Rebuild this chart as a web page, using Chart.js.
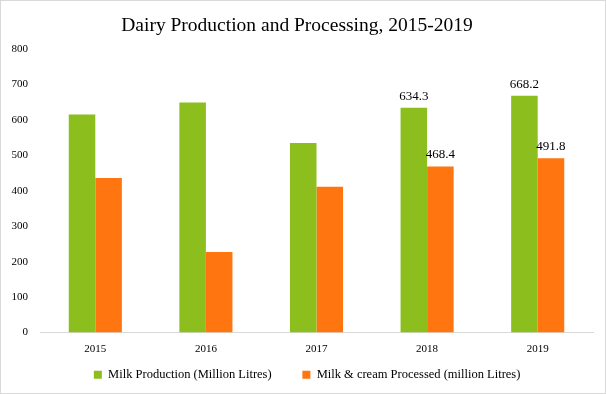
<!DOCTYPE html>
<html>
<head>
<meta charset="utf-8">
<script src="https://cdn.jsdelivr.net/npm/chart.js@4"></script>
<style>
  html, body { margin: 0; padding: 0; background: #fff; }
  #wrap { position: relative; width: 604px; height: 392px; border: 1px solid #d9d9d9; }
</style>
</head>
<body>
<div id="wrap"><canvas id="c" width="604" height="392"></canvas></div>
<script>
const titleText = 'Dairy Production and Processing, 2015-2019';
const categories = ['2015', '2016', '2017', '2018', '2019'];
const milkProduction = [615, 649, 535, 634.3, 668.2];
const milkProcessed = [436, 227, 411, 468.4, 491.8];
const milkProductionLabels = [null, null, null, '634.3', '668.2'];
const milkProcessedLabels = [null, null, null, '468.4', '491.8'];
const seriesNames = ['Milk Production (Million Litres)', 'Milk & cream Processed (million Litres)'];
const yTicks = [0, 100, 200, 300, 400, 500, 600, 700, 800];

const FONT = "'Liberation Serif', 'DejaVu Serif', serif";

const labelPlugin = {
  id: 'barLabels',
  afterDatasetsDraw(chart) {
    const ctx = chart.ctx;
    const sets = [milkProductionLabels, milkProcessedLabels];
    ctx.save();
    ctx.font = '13px ' + FONT;
    ctx.fillStyle = '#000';
    ctx.textAlign = 'center';
    ctx.textBaseline = 'bottom';
    chart.data.datasets.forEach((ds, i) => {
      const meta = chart.getDatasetMeta(i);
      meta.data.forEach((bar, j) => {
        const t = sets[i][j];
        if (t) ctx.fillText(t, bar.x, bar.y - 5);
      });
    });
    ctx.restore();
  }
};

new Chart(document.getElementById('c'), {
  type: 'bar',
  data: {
    labels: categories,
    datasets: [
      { label: seriesNames[0], data: milkProduction, backgroundColor: '#8cbf1e', categoryPercentage: 0.48, barPercentage: 1.0 },
      { label: seriesNames[1], data: milkProcessed, backgroundColor: '#ff750f', categoryPercentage: 0.48, barPercentage: 1.0 }
    ]
  },
  options: {
    responsive: false,
    animation: false,
    devicePixelRatio: 1,
    layout: { padding: { left: 0, right: 12, top: 0, bottom: 2 } },
    plugins: {
      title: {
        display: true,
        text: titleText,
        color: '#000',
        font: { family: FONT, size: 19.5, weight: 'normal' },
        padding: { top: 13, bottom: 11.6 }
      },
      legend: {
        position: 'bottom',
        fullSize: false,
        labels: {
          color: '#000',
          font: { family: FONT, size: 12.5 },
          boxWidth: 8,
          boxHeight: 8,
          padding: 12,
          generateLabels: chart => {
            const items = Chart.defaults.plugins.legend.labels.generateLabels(chart);
            items.forEach(it => { it.text = it.text + '\u2003\u2002'; });
            return items;
          }
        }
      },
      tooltip: { enabled: false }
    },
    scales: {
      x: {
        afterFit: s => { s.height = 24; },
        grid: { display: false, drawTicks: false },
        border: { display: true, color: '#d9d9d9', width: 1 },
        ticks: { color: '#000', font: { family: FONT, size: 11 }, padding: 10 }
      },
      y: {
        min: 0,
        max: 800,
        afterBuildTicks: s => { s.ticks = yTicks.map(v => ({ value: v })); },
        afterFit: s => { s.width = 39; },
        grid: { display: false, drawTicks: false },
        border: { display: false },
        ticks: { color: '#000', font: { family: FONT, size: 11 }, padding: 12 }
      }
    }
  },
  plugins: [labelPlugin]
});
</script>
</body>
</html>
